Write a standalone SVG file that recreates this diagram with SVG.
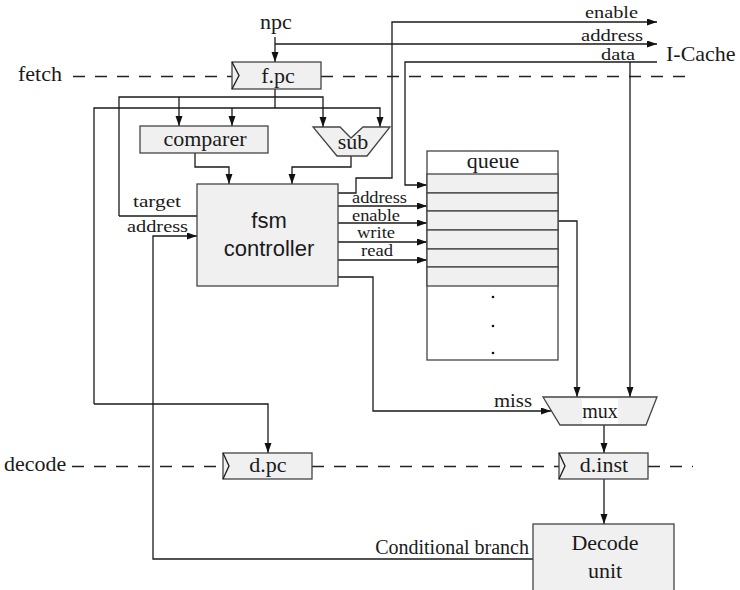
<svg xmlns="http://www.w3.org/2000/svg" width="740" height="590" viewBox="0 0 740 590">
<defs>
<marker id="ah" markerUnits="userSpaceOnUse" markerWidth="11" markerHeight="8" refX="10" refY="3.5" orient="auto">
<path d="M0,0 L10,3.5 L0,7 z" fill="#111"/>
</marker>
<style>
.box{fill:#f0f0f0;stroke:#444;stroke-width:1.3}
.wbox{fill:#fff;stroke:#444;stroke-width:1.3}
.ln{fill:none;stroke:#1a1a1a;stroke-width:1.3}
.ar{fill:none;stroke:#1a1a1a;stroke-width:1.3;marker-end:url(#ah)}
.dash{fill:none;stroke:#222;stroke-width:1.3;stroke-dasharray:12 10}
.big{font-family:"Liberation Serif","Times New Roman",serif;font-size:22px;fill:#1a1a1a}
.sans{font-family:"Liberation Sans",Arial,sans-serif;font-size:22px;fill:#1a1a1a}
.sm{font-family:"Liberation Serif","Times New Roman",serif;font-size:16px;fill:#1a1a1a}
.mid{text-anchor:middle}
</style>
</defs>

<g id="stages">
<text class="big" x="18" y="81">fetch</text>
<path class="dash" d="M73,76.5 H232 M321,76.5 H693"/>
<text class="big" x="4" y="471">decode</text>
<path class="dash" d="M72,466.5 H223 M312,466.5 H559 M648,466.5 H693"/>
</g>

<g id="connectors">
<text class="big mid" x="276" y="29">npc</text>
<path class="ar" d="M275,37 V62"/>
<path class="ar" d="M275,44 H657"/>
<path class="ar" d="M338,193 H356 V178 H392 V22 H657"/>
<path class="ar" d="M657,62 H405 V185 H427"/>
<path class="ar" d="M630,62 V397"/>
<path class="ln" d="M275,89 V108"/>
<path class="ar" d="M94,404 V108 H380 V127"/>
<path class="ar" d="M232,108 V126"/>
<path class="ar" d="M94,404 H268 V453"/>
<path class="ar" d="M119,216 V97 H323 V127"/>
<path class="ar" d="M179,97 V126"/>
<path class="ln" d="M119,216 H197"/>
<path class="ar" d="M533,559 H153 V236 H197"/>
<path class="ar" d="M195,153 V167 H229 V184"/>
<path class="ar" d="M351,156 V167 H292 V184"/>
<path class="ar" d="M338,206 H427"/>
<path class="ar" d="M338,223 H427"/>
<path class="ar" d="M338,242 H427"/>
<path class="ar" d="M338,260 H427"/>
<path class="ar" d="M558,221 H577 V397"/>
<path class="ar" d="M338,277 H373 V411 H551"/>
<path class="ar" d="M604,425 V453"/>
<path class="ar" d="M604,479 V524"/>
<text class="sm" x="585" y="18" textLength="53" lengthAdjust="spacingAndGlyphs">enable</text>
<text class="sm" x="581" y="41" textLength="62" lengthAdjust="spacingAndGlyphs">address</text>
<text class="sm" x="601" y="60" textLength="34" lengthAdjust="spacingAndGlyphs">data</text>
<text class="sm" x="133" y="207" textLength="48" lengthAdjust="spacingAndGlyphs">target</text>
<text class="sm" x="127" y="232" textLength="61" lengthAdjust="spacingAndGlyphs">address</text>
<text class="sm" x="352" y="203" textLength="55" lengthAdjust="spacingAndGlyphs">address</text>
<text class="sm" x="352" y="221" textLength="48" lengthAdjust="spacingAndGlyphs">enable</text>
<text class="sm" x="357" y="238" textLength="38" lengthAdjust="spacingAndGlyphs">write</text>
<text class="sm" x="361" y="256" textLength="32" lengthAdjust="spacingAndGlyphs">read</text>
<text class="sm" x="494" y="407" textLength="38" lengthAdjust="spacingAndGlyphs" style="font-size:19px">miss</text>
<text class="big" x="529" y="554" text-anchor="end" style="font-size:20px">Conditional branch</text>
</g>

<g id="icache">
<text class="big" x="666" y="61">I-Cache</text>
</g>

<g id="fpc">
<rect class="box" x="232" y="62" width="89" height="27"/>
<path class="ln" d="M232,62 L239,75.5 L232,89"/>
<text class="big mid" x="278" y="83">f.pc</text>
</g>

<g id="comparer">
<rect class="box" x="140" y="126" width="128" height="27"/>
<text class="big mid" x="205" y="146">comparer</text>
</g>

<g id="sub">
<polygon class="box" points="313,127 340,127 351,138 363,127 390,127 367,156 337,156"/>
<text class="big mid" x="353" y="149">sub</text>
</g>

<g id="fsm">
<rect class="box" x="197" y="184" width="141" height="102"/>
<text class="sans mid" x="269" y="228">fsm</text>
<text class="sans mid" x="269" y="256">controller</text>
</g>

<g id="queue">
<rect class="wbox" x="427" y="151" width="131" height="209"/>
<rect class="box" x="427" y="174" width="131" height="19"/>
<rect class="box" x="427" y="193" width="131" height="18"/>
<rect class="box" x="427" y="211" width="131" height="19"/>
<rect class="box" x="427" y="230" width="131" height="19"/>
<rect class="box" x="427" y="249" width="131" height="18"/>
<rect class="box" x="427" y="267" width="131" height="19"/>
<text class="big mid" x="493" y="168">queue</text>
<circle cx="493" cy="297" r="1.3" fill="#111"/>
<circle cx="493" cy="326" r="1.3" fill="#111"/>
<circle cx="493" cy="353" r="1.3" fill="#111"/>
</g>

<g id="mux">
<polygon class="box" points="543,397 657,397 646,425 560,425"/>
<rect x="582" y="399" width="36" height="25" fill="#fff"/>
<text class="big mid" x="600" y="418" style="font-size:20px">mux</text>
</g>

<g id="dpc">
<rect class="box" x="223" y="453" width="89" height="26"/>
<path class="ln" d="M223,453 L229,466 L223,479"/>
<text class="big mid" x="268" y="472">d.pc</text>
</g>

<g id="dinst">
<rect class="box" x="559" y="453" width="89" height="26"/>
<path class="ln" d="M559,453 L565,466 L559,479"/>
<text class="big mid" x="604" y="472">d.inst</text>
</g>

<g id="decodeunit">
<rect class="box" x="533" y="524" width="141" height="80"/>
<text class="big mid" x="605" y="550">Decode</text>
<text class="big mid" x="605" y="578">unit</text>
</g>
</svg>
